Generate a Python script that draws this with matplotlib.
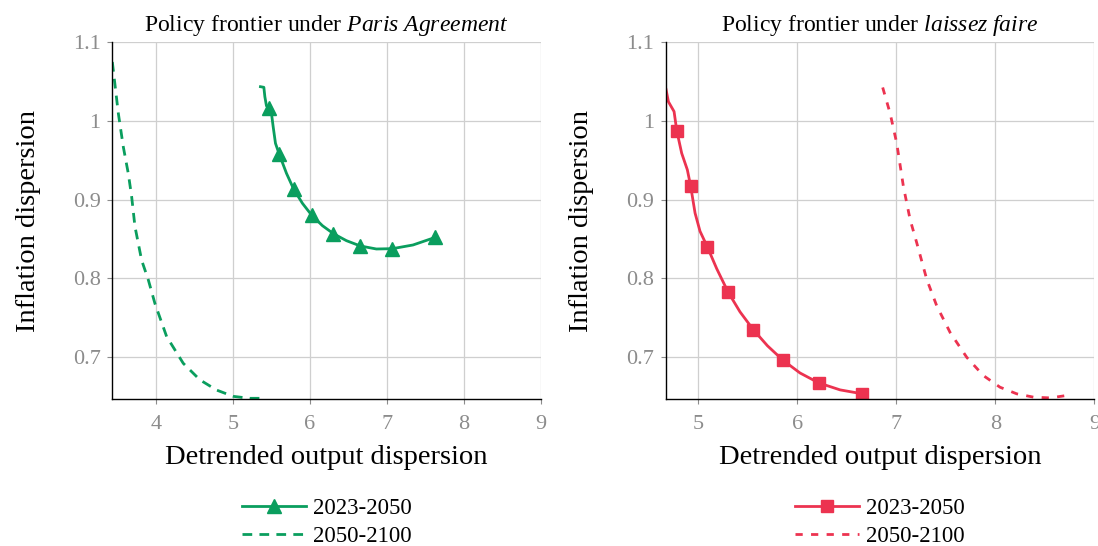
import matplotlib
matplotlib.use("Agg")
import matplotlib.pyplot as plt

plt.rcParams["font.family"] = ["Liberation Serif", "DejaVu Serif"]
plt.rcParams["mathtext.fontset"] = "custom"
plt.rcParams["mathtext.rm"] = "Liberation Serif"
plt.rcParams["mathtext.it"] = "Liberation Serif:italic"

# Paris Agreement frontier
paris_early_x = [5.356, 5.400, 5.413, 5.434, 5.465, 5.499, 5.521, 5.551, 5.599, 5.694,
                 5.789, 5.902, 6.023, 6.162, 6.304, 6.473, 6.655, 6.863, 7.071, 7.339, 7.629]
paris_early_y = [1.0436, 1.0428, 1.0309, 1.0191, 1.0169, 1.0097, 0.9928, 0.9716, 0.9581, 0.9335,
                 0.9131, 0.8953, 0.8801, 0.8669, 0.8568, 0.8479, 0.8411, 0.8373, 0.8377, 0.8424, 0.8521]
paris_early_marks = [4, 8, 10, 12, 14, 16, 18, 20]

paris_late_x = [3.43, 3.508, 3.573, 3.638, 3.681, 3.724, 3.811, 3.898, 3.984, 4.136,
                4.352, 4.568, 4.785, 5.001, 5.218, 5.391]
paris_late_y = [1.075, 1.0097, 0.967, 0.933, 0.904, 0.866, 0.823, 0.798, 0.768, 0.726,
                0.692, 0.671, 0.658, 0.650, 0.6475, 0.6475]

# Laissez-faire frontier
lf_early_x = [4.674, 4.698, 4.755, 4.782, 4.832, 4.889, 4.923, 4.967, 5.017, 5.092,
              5.186, 5.300, 5.421, 5.556, 5.698, 5.852, 6.027, 6.216, 6.432, 6.657]
lf_early_y = [1.040, 1.0245, 1.012, 0.9878, 0.959, 0.938, 0.9169, 0.883, 0.8599, 0.8397,
              0.8122, 0.7827, 0.7574, 0.7346, 0.7143, 0.6962, 0.6797, 0.6671, 0.6582, 0.6532]
lf_early_marks = [3, 6, 9, 11, 13, 15, 17, 19]

lf_late_x = [6.862, 6.937, 7.004, 7.071, 7.139, 7.206, 7.307, 7.408, 7.543, 7.711,
             7.879, 8.047, 8.216, 8.384, 8.553, 8.714]
lf_late_y = [1.0426, 1.0097, 0.9717, 0.9169, 0.8747, 0.8451, 0.7987, 0.765, 0.7312, 0.6996,
             0.6764, 0.6616, 0.6532, 0.649, 0.648, 0.651]

series_labels = ["2023-2050", "2050-2100"]
x_ticks = [4, 5, 6, 7, 8, 9]
y_ticks = [0.7, 0.8, 0.9, 1.0, 1.1]
y_tick_labels = ["0.7", "0.8", "0.9", "1", "1.1"]

green = "#0a9e5e"
red = "#ec3350"
tick_gray = "#8c8c8c"

fig = plt.figure(figsize=(10.98, 5.46), dpi=100)
ax1 = fig.add_axes([0.1023, 0.2692, 0.3902, 0.6533])
ax2 = fig.add_axes([0.6066, 0.2692, 0.3901, 0.6533])


def style(ax, xmin, title):
    ax.set_xlim(xmin, 9)
    ax.set_ylim(0.6466, 1.1)
    ax.set_xticks([t for t in x_ticks if t >= xmin])
    ax.set_yticks(y_ticks)
    ax.set_yticklabels(y_tick_labels)
    ax.grid(True, color="#cfcfcf", linewidth=0.9)
    ax.set_axisbelow(True)
    for s in ("top", "right"):
        ax.spines[s].set_visible(False)
    for s in ("left", "bottom"):
        ax.spines[s].set_color("black")
        ax.spines[s].set_linewidth(1.0)
    ax.tick_params(direction="out", length=3.5, color=tick_gray, labelcolor=tick_gray,
                   labelsize=16, width=0.8)
    ax.tick_params(axis="x", pad=8)
    ax.tick_params(axis="y", pad=5)
    ax.set_xlabel("Detrended output dispersion", fontsize=20.5, labelpad=8)
    ax.set_ylabel("Inflation dispersion", fontsize=20.5, labelpad=23)
    ax.set_title(title, fontsize=17, pad=8)


style(ax1, 3.43, r"Policy frontier under $\mathit{Paris\ Agreement}$")
style(ax2, 4.674, r"Policy frontier under $\mathit{laissez\ faire}$")

ax1.plot(paris_early_x, paris_early_y, color=green, lw=2.0, marker="^", markersize=9.5,
         markevery=paris_early_marks, label=series_labels[0])
ax1.plot(paris_late_x, paris_late_y, color=green, lw=2.0, dashes=(3.5, 2.6),
         label=series_labels[1])

ax2.plot(lf_early_x, lf_early_y, color=red, lw=2.0, marker="s", markersize=8.5,
         markevery=lf_early_marks, label=series_labels[0])
ax2.plot(lf_late_x, lf_late_y, color=red, lw=2.0, dashes=(2.6, 3.0),
         label=series_labels[1])

for ax in (ax1, ax2):
    ax.legend(loc="upper center", bbox_to_anchor=(0.5, -0.252), frameon=False,
              fontsize=16.5, handlelength=2.8, handletextpad=0.3, labelspacing=0.28,
              borderaxespad=0)

fig.savefig("out.png", dpi=100)
